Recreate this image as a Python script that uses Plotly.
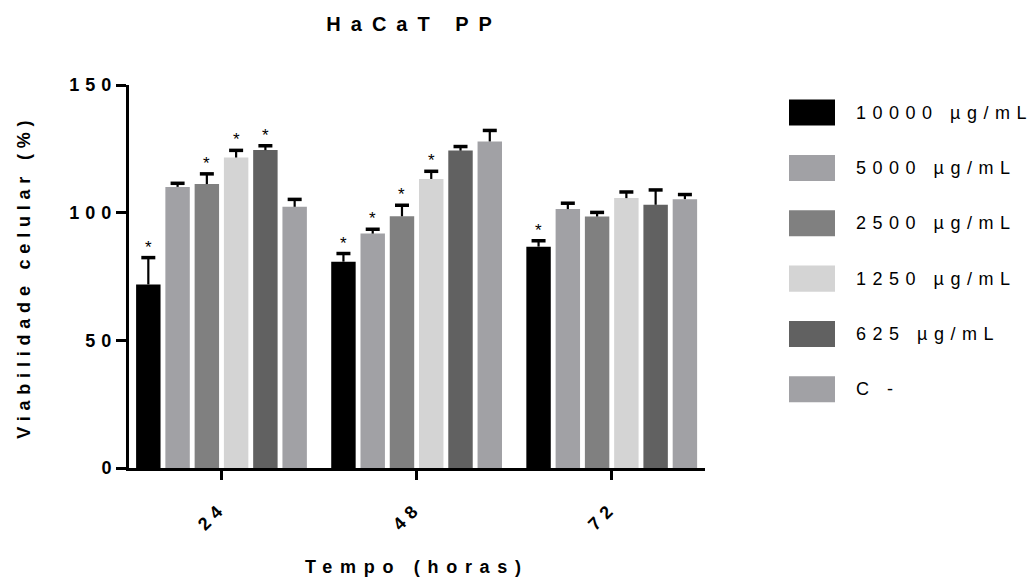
import plotly.graph_objects as go

# Time points (hours) on the x axis
times = ["24", "48", "72"]

# Treatment groups and their bar colours
series_names = ["10000 µg/mL", "5000 µg/mL", "2500 µg/mL", "1250 µg/mL", "625 µg/mL", "C -"]
colors = ["#000000", "#A1A1A5", "#808080", "#D4D4D4", "#616161", "#A1A1A5"]

# Mean cell viability (%) per group at 24 / 48 / 72 h
v_10000 = [71.9, 80.8, 86.7]
v_5000 = [110.1, 91.8, 101.4]
v_2500 = [111.2, 98.6, 98.5]
v_1250 = [121.6, 113.2, 105.7]
v_625 = [124.5, 124.3, 103.1]
v_cneg = [102.3, 127.9, 105.3]

# Upper error (SD) per group
e_10000 = [10.5, 3.2, 2.3]
e_5000 = [1.4, 1.7, 2.3]
e_2500 = [4.0, 4.3, 1.6]
e_1250 = [2.8, 3.0, 2.4]
e_625 = [1.7, 1.6, 5.8]
e_cneg = [2.9, 4.3, 1.8]

# Significance flags (*) per group
sig_10000 = [True, True, True]
sig_5000 = [False, True, False]
sig_2500 = [True, True, False]
sig_1250 = [True, True, False]
sig_625 = [True, False, False]
sig_cneg = [False, False, False]

y_ticks = [0, 50, 100, 150]

values = [v_10000, v_5000, v_2500, v_1250, v_625, v_cneg]
errors = [e_10000, e_5000, e_2500, e_1250, e_625, e_cneg]
signif = [sig_10000, sig_5000, sig_2500, sig_1250, sig_625, sig_cneg]

FONT = "Liberation Sans, Arial, sans-serif"
BARGAP = 0.1
BARGROUPGAP = 0.165
n_series = len(series_names)
xpos = list(range(len(times)))
slot = (1 - BARGAP) / n_series

fig = go.Figure()

for k, name in enumerate(series_names):
    fig.add_trace(go.Bar(
        x=xpos, y=values[k], name=name,
        marker=dict(color=colors[k], line=dict(width=0)),
        showlegend=False,
    ))

# Upper-only error bars: stem + cap at the centre of each bar
annotations = []
for k in range(n_series):
    off = -(1 - BARGAP) / 2 + slot * (k + 0.5)
    cx = [i + off for i in xpos]
    tops = [v + e for v, e in zip(values[k], errors[k])]
    sx, sy = [], []
    for c, v, t in zip(cx, values[k], tops):
        sx += [c, c, None]
        sy += [v, t, None]
    fig.add_trace(go.Scatter(
        x=sx, y=sy, mode="lines", line=dict(color="black", width=2.2),
        hoverinfo="skip", showlegend=False,
    ))
    fig.add_trace(go.Scatter(
        x=cx, y=tops, mode="markers",
        marker=dict(symbol="line-ew", size=10, line=dict(color="black", width=3.5)),
        hoverinfo="skip", showlegend=False,
    ))
    for c, t, s in zip(cx, tops, signif[k]):
        if s:
            annotations.append(dict(
                x=c, y=t, xref="x", yref="y", text="*", showarrow=False,
                xanchor="center", yanchor="bottom", yshift=-1,
                font=dict(family=FONT, size=17, color="black"),
            ))

# Axis titles
title_annotations = [
    dict(text="Tempo (horas)", x=0.5, y=-0.258, xref="paper", yref="paper",
         showarrow=False, xanchor="center", yanchor="middle",
         font=dict(family=FONT, size=18, color="black", weight="bold")),
    dict(text="Viabilidade celular (%)", x=-0.183, y=0.5, xref="paper", yref="paper",
         showarrow=False, xanchor="center", yanchor="middle", textangle=-90,
         font=dict(family=FONT, size=18, color="black", weight="bold")),
]

# Legend: large swatches with labels to the right of the plot
shapes = []
legend_labels = []
plot_left, plot_w = 129, 576
plot_bottom, plot_h = 467.5, 382
for k, name in enumerate(series_names):
    yc = 113 + 55.2 * k
    y0 = (plot_bottom - (yc + 13)) / plot_h
    y1 = (plot_bottom - (yc - 13)) / plot_h
    shapes.append(dict(
        type="rect", xref="paper", yref="paper",
        x0=(789 - plot_left) / plot_w, x1=(835 - plot_left) / plot_w,
        y0=y0, y1=y1, fillcolor=colors[k], line=dict(width=0),
    ))
    legend_labels.append(dict(
        text=name, x=(854 - plot_left) / plot_w, y=(plot_bottom - yc) / plot_h,
        xref="paper", yref="paper", showarrow=False,
        xanchor="left", yanchor="middle", align="left",
        font=dict(family=FONT, size=18, color="black"),
    ))

fig.update_layout(
    width=1035, height=580,
    margin=dict(l=129, r=330, t=85, b=112),
    plot_bgcolor="white", paper_bgcolor="white",
    barmode="group", bargap=BARGAP, bargroupgap=BARGROUPGAP,
    showlegend=False,
    title=dict(text="HaCaT PP", x=0.495, xanchor="center", xref="paper",
               y=1 - 24 / 580, yanchor="middle", yref="container",
               font=dict(family=FONT, size=20, color="black", weight="bold")),
    xaxis=dict(
        range=[-0.474, 2.478], tickvals=xpos, ticktext=times,
        ticks="outside", ticklen=9, tickwidth=3, tickcolor="black",
        showline=True, linewidth=3, linecolor="black",
        showgrid=False, zeroline=False, tickangle=-45,
        tickfont=dict(family=FONT, size=18, color="black", weight="bold"),
        ticklabelstandoff=10,
    ),
    yaxis=dict(
        range=[0, 150], tickvals=y_ticks,
        ticks="outside", ticklen=10, tickwidth=3, tickcolor="black",
        showline=True, linewidth=3, linecolor="black",
        showgrid=False, zeroline=False,
        tickfont=dict(family=FONT, size=18, color="black", weight="bold"),
        ticklabelstandoff=-5,
    ),
    shapes=shapes,
    annotations=title_annotations + legend_labels + annotations,
)

# Wide letter tracking on the chart texts
tracking_js = """
var gd = document.getElementById('{plot_id}');
function track(sel, v) {
  gd.querySelectorAll(sel).forEach(function(t) { t.style.letterSpacing = v; });
}
track('.gtitle', '10px');
track('.xtick text', '6px');
track('.ytick text', '6px');
track('g.annotation[data-index="0"] text', '7.7px');
track('g.annotation[data-index="1"] text', '5.8px');
for (var i = 2; i < 8; i++) {
  track('g.annotation[data-index="' + i + '"] text', '6.5px');
}
"""

fig.write_html("out.html", post_script=tracking_js)
